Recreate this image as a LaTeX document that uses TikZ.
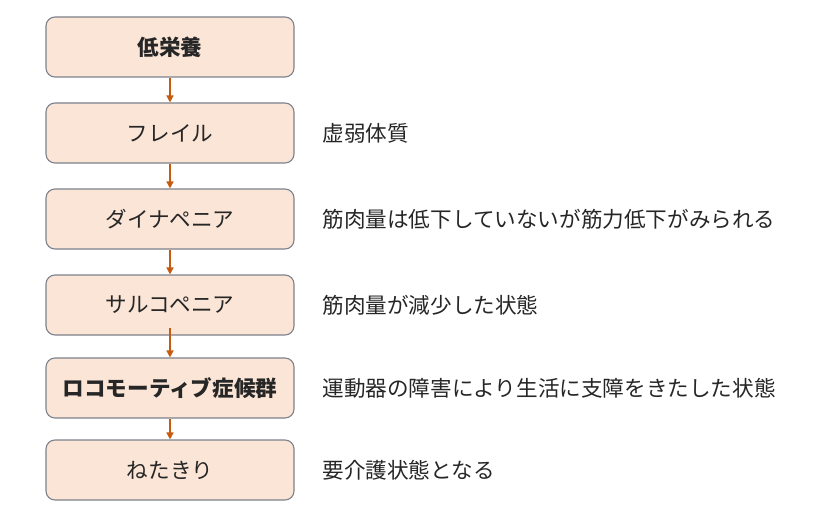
\documentclass[tikz,border=0pt]{standalone}
\usepackage{fontspec}
\newfontfamily\jp{Noto Sans CJK JP}
\usetikzlibrary{arrows.meta}
\definecolor{peach}{RGB}{251,229,214}
\definecolor{edge}{RGB}{125,130,140}
\definecolor{arr}{RGB}{197,90,17}
\begin{document}
\begin{tikzpicture}[x=1pt,y=-1pt,
  stagebox/.style={draw=edge,line width=1.1pt,fill=peach,rounded corners=9pt,minimum width=248pt,minimum height=60pt,font=\jp\fontsize{21.6}{25}\selectfont,text=black!85},
  boldbox/.style={stagebox,font=\jp\bfseries\fontsize{21.6}{25}\selectfont},
  desc/.style={anchor=west,font=\jp\fontsize{21.6}{25}\selectfont,text=black!85},
  flow/.style={draw=arr,line width=1.5pt,-{Triangle[length=7pt,width=7pt]}}]
\useasboundingbox (0,0) rectangle (832,516);
\node[boldbox] (b1) at (170,47) {低栄養};
\node[stagebox] (b2) at (170,133) {フレイル};
\node[stagebox] (b3) at (170,219) {ダイナペニア};
\node[stagebox] (b4) at (170,305) {サルコペニア};
\node[boldbox] (b5) at (170,388) {ロコモーティブ症候群};
\node[stagebox] (b6) at (170,470) {ねたきり};
\node[desc] (d2) at (319,133) {虚弱体質};
\node[desc] (d3) at (319,219) {筋肉量は低下していないが筋力低下がみられる};
\node[desc] (d4) at (319,305) {筋肉量が減少した状態};
\node[desc] (d5) at (319,388) {運動器の障害により生活に支障をきたした状態};
\node[desc] (d6) at (319,470) {要介護状態となる};
\draw[flow] (b1.south) -- (b2.north);
\draw[flow] (b2.south) -- (b3.north);
\draw[flow] (b3.south) -- (b4.north);
\draw[flow] ([yshift=8pt]b4.south) -- (b5.north);
\draw[flow] (b5.south) -- (b6.north);
\end{tikzpicture}
\end{document}
